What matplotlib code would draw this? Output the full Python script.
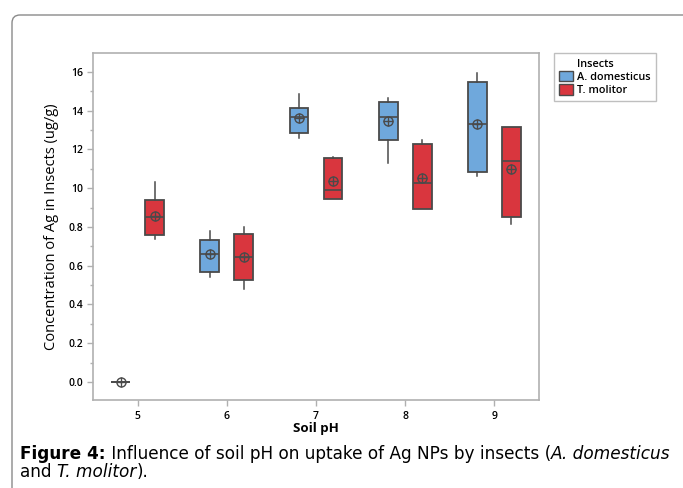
import matplotlib
matplotlib.use("Agg")
import matplotlib.pyplot as plt
from matplotlib.patches import Patch, FancyBboxPatch
from matplotlib.transforms import IdentityTransform

# --- Data (Ag concentration, ug/g) ---
ph = [5, 6, 7, 8, 9]

dom_whislo = [0.0, 0.543, 1.261, 1.127, 1.062]
dom_q1 = [0.0, 0.567, 1.285, 1.246, 1.084]
dom_med = [0.0, 0.658, 1.368, 1.368, 1.330]
dom_q3 = [0.0, 0.732, 1.411, 1.445, 1.545]
dom_whishi = [0.0, 0.778, 1.485, 1.467, 1.596]
dom_mean = [0.0, 0.658, 1.362, 1.345, 1.330]

mol_whislo = [0.735, 0.478, 0.945, 0.890, 0.813]
mol_q1 = [0.758, 0.524, 0.945, 0.890, 0.852]
mol_med = [0.852, 0.646, 0.990, 1.024, 1.141]
mol_q3 = [0.938, 0.761, 1.155, 1.227, 1.313]
mol_whishi = [1.032, 0.800, 1.161, 1.246, 1.313]
mol_mean = [0.857, 0.646, 1.035, 1.052, 1.101]

ytick_vals = [0.0, 0.2, 0.4, 0.6, 0.8, 1.0, 1.2, 1.4, 1.6]
ytick_labels = ["0.0", "0.2", "0.4", "0.6", "0.8", "10", "12", "14", "16"]

blue = "#6fa8dc"
red = "#d9363e"
edge = "#4a4a4a"
axis_gray = "#b0b0b0"

plt.rcParams["font.family"] = ["Open Sans", "DejaVu Sans"]

fig = plt.figure(figsize=(6.83, 4.88), dpi=100)
ax = fig.add_axes([93 / 683, 1 - 400 / 488, 446 / 683, 347 / 488])


def make_stats(lo, q1, med, q3, hi):
    return [dict(whislo=a, q1=b, med=c, q3=d, whishi=e, fliers=[])
            for a, b, c, d, e in zip(lo, q1, med, q3, hi)]


groups = [
    (make_stats(dom_whislo, dom_q1, dom_med, dom_q3, dom_whishi), dom_mean, -0.19, blue),
    (make_stats(mol_whislo, mol_q1, mol_med, mol_q3, mol_whishi), mol_mean, 0.19, red),
]

for stats, means, off, col in groups:
    pos = [p + off for p in ph]
    ax.bxp(stats, positions=pos, widths=0.21, patch_artist=True,
           showcaps=False, showfliers=False,
           boxprops=dict(facecolor=col, edgecolor=edge, linewidth=1.3),
           medianprops=dict(color=edge, linewidth=1.2),
           whiskerprops=dict(color=edge, linewidth=1.1),
           zorder=3)
    ax.plot(pos, means, linestyle="none", marker="o", markersize=6.5,
            mfc="none", mec=edge, mew=1.0, zorder=4)
    ax.plot(pos, means, linestyle="none", marker="+", markersize=6.5,
            mec=edge, mew=1.0, zorder=4)

ax.set_xlim(4.5, 9.5)
ax.set_ylim(-0.093, 1.697)
ax.set_xticks(ph)
ax.set_xticklabels([str(p) for p in ph])
ax.set_yticks(ytick_vals)
ax.set_yticklabels(ytick_labels)
ax.set_yticks([v + 0.1 for v in ytick_vals[:-1]], minor=True)

for s in ax.spines.values():
    s.set_color(axis_gray)
    s.set_linewidth(1.2)
ax.tick_params(axis="both", which="major", length=4, width=1, color=axis_gray,
               labelsize=7.5, pad=3)
ax.tick_params(axis="y", which="minor", length=2.5, width=1, color=axis_gray)
for lab in ax.get_xticklabels() + ax.get_yticklabels():
    lab.set_fontweight("semibold")
ax.tick_params(axis="x", pad=4)

ax.set_xlabel("Soil pH", fontsize=9.5, fontweight="bold", labelpad=0)
ax.set_ylabel("Concentration of Ag in Insects (ug/g)", fontsize=10.5, labelpad=7)

# legend with title row aligned to labels
handles = [Patch(facecolor="none", edgecolor="none", label="Insects"),
           Patch(facecolor=blue, edgecolor=edge, label="A. domesticus"),
           Patch(facecolor=red, edgecolor=edge, label="T. molitor")]
leg = fig.legend(handles=handles, loc="upper left", bbox_to_anchor=(554 / 683, 1 - 53 / 488),
                 fontsize=7.8, frameon=True, fancybox=False, handlelength=1.3,
                 handleheight=1.1, handletextpad=0.4, labelspacing=0.12,
                 borderpad=0.45, borderaxespad=0)
leg.get_frame().set_edgecolor(axis_gray)
leg.get_frame().set_linewidth(1.0)
for t in leg.get_texts():
    t.set_fontweight("semibold")

# outer rounded border
border = FancyBboxPatch((12, -20), 700, 488 - 15 + 20, boxstyle="round,pad=0,rounding_size=8",
                        transform=IdentityTransform(), facecolor="none",
                        edgecolor="#8a8a8a", linewidth=1.0)
fig.patches.append(border)

# caption with mixed styles
cap_font = ["DejaVu Sans"]
renderer = fig.canvas.get_renderer()


def caption_line(parts, x0, y0):
    x = x0
    for txt, weight, style in parts:
        t = fig.text(x / 683, 1 - y0 / 488, txt, fontsize=12.2, family=cap_font,
                     fontweight=weight, fontstyle=style, va="baseline", ha="left")
        bb = t.get_window_extent(renderer=renderer)
        x += bb.width


caption_line([("Figure 4:", "bold", "normal"),
              (" Influence of soil pH on uptake of Ag NPs by insects (", "normal", "normal"),
              ("A. domesticus", "normal", "italic")], 20, 459)
caption_line([("and ", "normal", "normal"),
              ("T. molitor", "normal", "italic"),
              (").", "normal", "normal")], 20, 477)

fig.savefig("out.png", dpi=100)
